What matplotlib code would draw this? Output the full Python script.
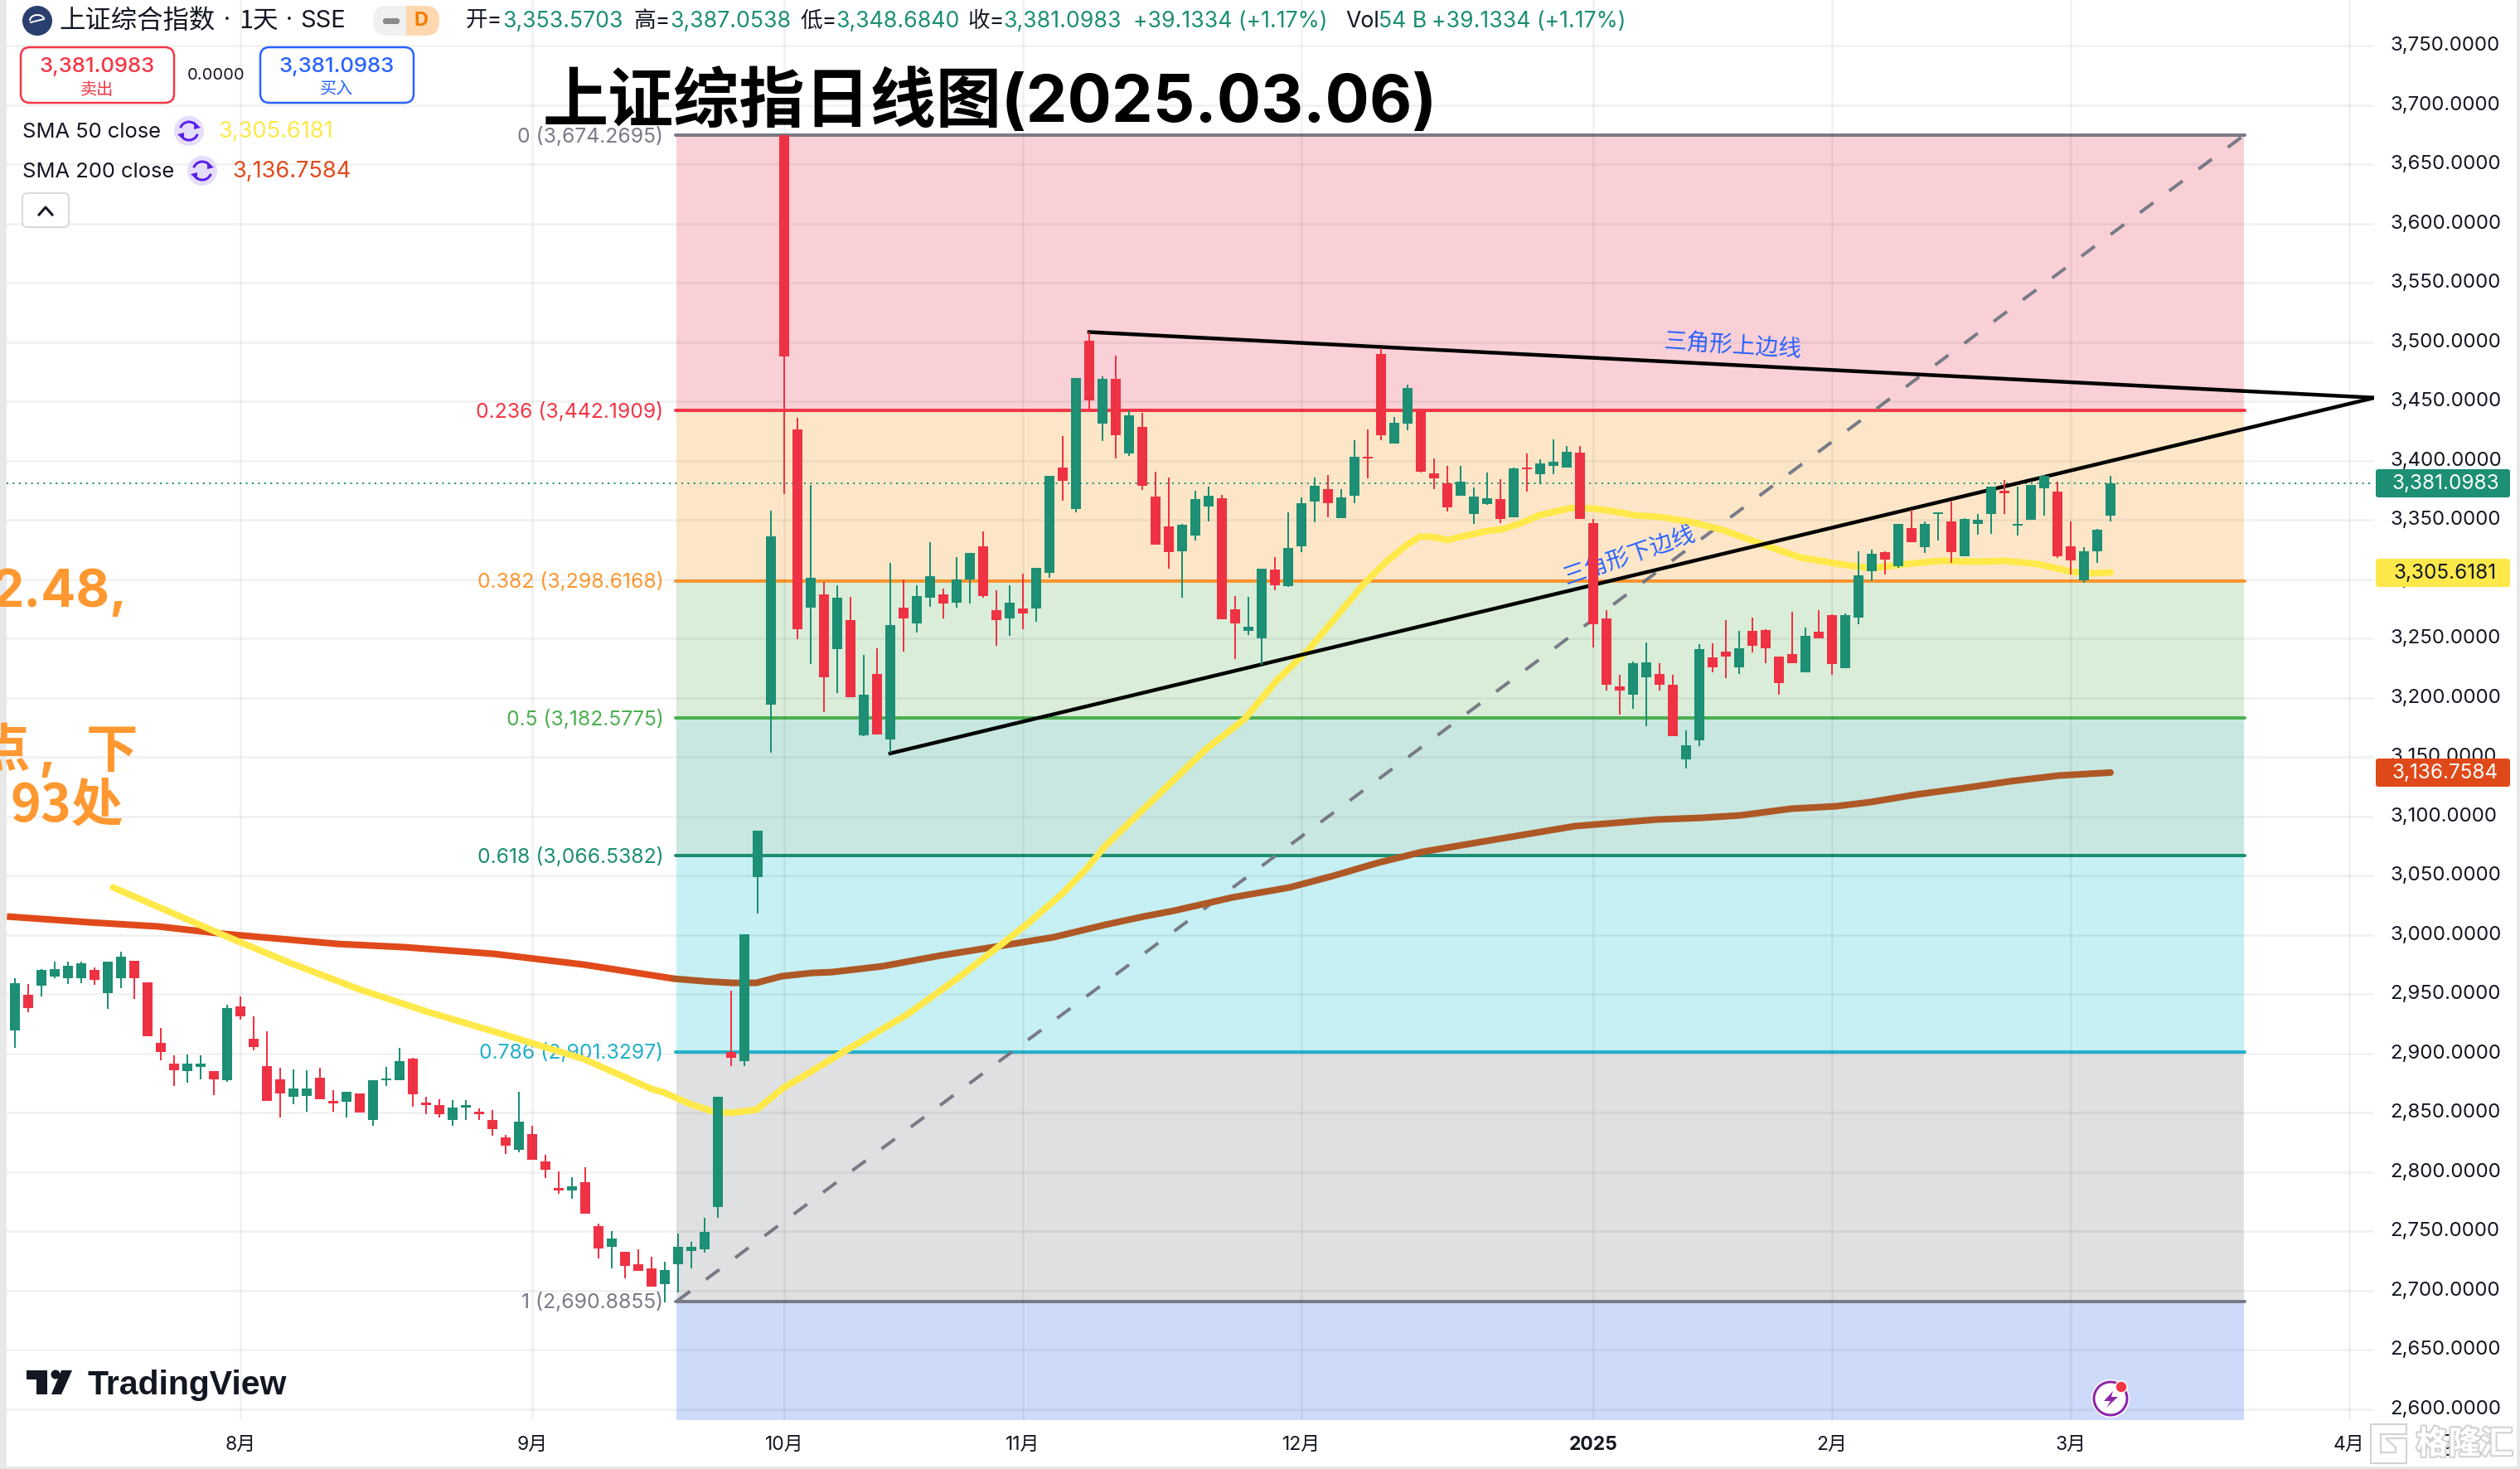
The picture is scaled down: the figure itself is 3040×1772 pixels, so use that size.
import numpy as np
import matplotlib
matplotlib.use('Agg')
import matplotlib.pyplot as plt
import matplotlib.patheffects as pe
from matplotlib.patches import FancyBboxPatch, Circle, Rectangle, Polygon, Arc
from matplotlib.transforms import ScaledTranslation

# daily candles, index 0 = first bar on screen
opens = [2919.1, 2949, 2956.9, 2965, 2963, 2963, 2970.6, 2950.6, 2963, 2978.3,
         2960, 2909, 2891.6, 2885.3, 2888.8, 2885.3, 2877, 2939.9, 2912.6, 2889.5,
         2878.3, 2863, 2864.3, 2879.7, 2859.4, 2859.4, 2866.4, 2843.4, 2877, 2877,
         2895.8, 2858.7, 2856, 2844, 2854.5, 2851, 2844, 2829.4, 2818.9, 2832.2,
         2809, 2786.7, 2784.6, 2791.6, 2754.5, 2737, 2732.9, 2722.4, 2718.9, 2705,
         2722.3, 2733.6, 2735, 2770, 2901, 2893.4, 3048.5, 3194, 3674.3, 3426.5,
         3276.2, 3287.4, 3240.8, 3265.1, 3168, 3220.2, 3165, 3275.7, 3262.9, 3284,
         3287.4, 3279.8, 3299.5, 3327.4, 3273.5, 3267.1, 3274.9, 3274.9, 3305.6, 3394.4,
         3358.8, 3501.3, 3430.9, 3469.2, 3405.7, 3428.7, 3369.4, 3344.1, 3323.7, 3336.5,
         3361.5, 3367.9, 3274.2, 3256.3, 3249.7, 3307.8, 3293.8, 3327.4, 3365.2, 3376.2,
         3351.7, 3370.1, 3402.7, 3489.6, 3414.7, 3430.9, 3441.5, 3389.5, 3381.1, 3370.1,
         3354.6, 3363, 3367.2, 3352.4, 3394.4, 3388.3, 3395.8, 3394.4, 3406.4, 3347.5,
         3266.6, 3209.2, 3202.3, 3217.5, 3220.2, 3211.2, 3147.6, 3164.3, 3234.2, 3238.6,
         3225.9, 3256, 3256.8, 3235, 3236.8, 3221.4, 3255.9, 3269.9, 3225.2, 3267.8,
         3307, 3323.1, 3311.2, 3342.7, 3327.3, 3354.6, 3348.3, 3319.6, 3346.2, 3355.2,
         3374.1, 3344.8, 3349.7, 3376.9, 3374.1, 3328, 3299.3, 3323.8, 3353.6]
highs = [2963.4, 2958.7, 2971.3, 2977, 2977, 2977, 2972.7, 2977.4, 2986, 2978.3,
         2960, 2921.7, 2898, 2899.3, 2898.6, 2885.3, 2940.6, 2947.6, 2931.5, 2918.9,
         2888, 2886.7, 2886, 2888, 2869.2, 2867.8, 2866.4, 2877.6, 2888.8, 2904.9,
         2896.5, 2863.6, 2861.5, 2860.8, 2860.8, 2853.8, 2852.4, 2831.5, 2867.8, 2839.2,
         2814.7, 2800.7, 2795.8, 2804, 2756.6, 2750.3, 2732.9, 2735, 2728.7, 2724,
         2747.6, 2741, 2761, 2863, 2952.5, 3000.6, 3087.6, 3358, 3674.3, 3436.3,
         3379.2, 3297.3, 3294.6, 3284.7, 3236.4, 3241.3, 3313.4, 3300, 3294.6, 3330.9,
         3292.3, 3318.8, 3321.8, 3339.9, 3290.9, 3295, 3304.9, 3309.8, 3386.8, 3420.4,
         3469.9, 3508.4, 3470.7, 3488.8, 3442.2, 3440.3, 3390.9, 3386, 3346.3, 3374.8,
         3377.7, 3371.3, 3285.5, 3284.7, 3309, 3318.8, 3356.6, 3368.6, 3386, 3387.5,
         3376.2, 3417.4, 3426, 3494.5, 3437.1, 3463.8, 3441.5, 3401.5, 3395.8, 3395.8,
         3377, 3390.2, 3384.6, 3394.4, 3405.7, 3400.8, 3418.2, 3412.5, 3412.5, 3351,
         3273.5, 3219, 3230.8, 3246.2, 3228.8, 3219.5, 3172.2, 3244.8, 3245.5, 3265.1,
         3256, 3267.8, 3258, 3235, 3272.7, 3259.4, 3274.1, 3270.6, 3271.3, 3323.8,
         3325.2, 3323.8, 3346.2, 3358.7, 3348.3, 3356.6, 3365.7, 3351.7, 3355.2, 3378.3,
         3383.9, 3378.3, 3379.7, 3388.1, 3382.5, 3348.3, 3327.3, 3342, 3387.05]
lows = [2904.4, 2935, 2947.8, 2963, 2958.7, 2959.4, 2958, 2937.8, 2955.2, 2946,
        2914.7, 2894.4, 2872.7, 2875.5, 2878.3, 2865, 2876.2, 2928.7, 2902.8, 2860,
        2845.5, 2857.3, 2851, 2861.5, 2851, 2845.5, 2849.7, 2839.2, 2872.7, 2877,
        2855.2, 2848.3, 2845.5, 2839.2, 2844, 2843.4, 2830.8, 2815.4, 2816.8, 2810.5,
        2795, 2781.8, 2777.6, 2765, 2727.3, 2718.9, 2710.5, 2716.8, 2703.5, 2689.6,
        2698.3, 2718.6, 2732, 2761, 2889, 2889, 3017.8, 3153.5, 3371.6, 3249.2,
        3228.3, 3187.6, 3203.6, 3200.4, 3167.3, 3168.7, 3153.5, 3238.6, 3254.6, 3276.9,
        3266.6, 3275.7, 3279.1, 3284, 3244, 3251.9, 3258, 3263.7, 3301.4, 3366.4,
        3356.1, 3442.2, 3416.2, 3401.5, 3404.2, 3375.5, 3329.4, 3308.5, 3284.3, 3332.3,
        3348.3, 3265.9, 3232.3, 3252.6, 3227.6, 3290.6, 3293.1, 3322.8, 3347.8, 3352.4,
        3351.7, 3363.7, 3385.3, 3417.4, 3414.7, 3425.3, 3390.2, 3376.2, 3357.3, 3370.1,
        3346.3, 3362.3, 3347.5, 3352.4, 3373.5, 3380.4, 3388.3, 3394.4, 3350.5, 3242,
        3205.8, 3185.4, 3190.3, 3175.8, 3205.8, 3167.3, 3140.5, 3159.4, 3221.7, 3216.8,
        3219.7, 3237.9, 3228.8, 3202.8, 3229.4, 3221.4, 3249.7, 3219.6, 3225.2, 3262.2,
        3298.6, 3304.2, 3309.8, 3331.5, 3322.4, 3332.9, 3314, 3319.6, 3337.8, 3338.5,
        3355.2, 3337.1, 3349.7, 3353.2, 3318.2, 3304.2, 3297.2, 3314, 3348.68]
closes = [2959.4, 2938.5, 2970, 2971.3, 2974, 2976, 2962, 2977, 2981.8, 2963.6,
          2914.7, 2901.4, 2886, 2891, 2891.6, 2878.3, 2938.5, 2931.5, 2905, 2860,
          2866.4, 2870, 2870, 2861.5, 2858, 2867.8, 2849.7, 2877.6, 2879, 2893.7,
          2865.7, 2856, 2848.3, 2854.5, 2856, 2848.3, 2836.4, 2822.4, 2842, 2810.5,
          2802, 2784, 2788, 2765, 2735.7, 2744, 2721, 2716.8, 2703.5, 2717.5,
          2736.5, 2737, 2749, 2863, 2896, 3000.6, 3087.6, 3335.8, 3488, 3258,
          3301.4, 3217, 3284, 3200.4, 3202.8, 3168.7, 3261, 3267.1, 3285.5, 3302.2,
          3279.1, 3299.5, 3321.8, 3285.5, 3265.1, 3279.8, 3270.8, 3309.8, 3386.8, 3382.6,
          3469.9, 3451, 3469.2, 3421.1, 3438.5, 3378.7, 3329.4, 3322.5, 3345.6, 3367.2,
          3370.1, 3265.9, 3262.9, 3259.5, 3309, 3294.6, 3326, 3363.7, 3378.4, 3363.7,
          3368.6, 3403.5, 3401.5, 3421.6, 3432.2, 3460.9, 3390.9, 3385.3, 3360.3, 3381.9,
          3369.4, 3367.9, 3350.5, 3393.2, 3392.4, 3397.3, 3399.3, 3407.1, 3350.5, 3261.7,
          3210.7, 3205.8, 3229.3, 3230, 3210.7, 3167.3, 3160.1, 3240.6, 3225.9, 3235,
          3241.3, 3243.5, 3241.3, 3212.6, 3229.4, 3252.4, 3249.7, 3228.7, 3269.9, 3303.5,
          3321.7, 3316.8, 3346.2, 3331.5, 3346.2, 3356, 3323.1, 3351, 3350.3, 3378.3,
          3372.7, 3346.2, 3379.7, 3387.4, 3319.6, 3316.1, 3323.8, 3341.3, 3381.1]

# moving averages, read at bar positions
sma50_x = [7.4, 11.75, 15.8, 20.6, 26, 31.1, 36.8, 42.9, 48, 48.9, 50.9, 52.6, 54, 55.9, 58, 59.2,
           62.6, 67.3, 71.2, 74.5, 76.4, 79, 80.8, 82.2, 84.6, 87.4, 89.8, 92.7, 95.1, 97.6,
           99.8, 101.8, 103.4, 105, 105.9, 106.9, 108, 109, 111, 112.1, 113.5, 114.9, 117.4,
           119.1, 120.5, 122.1, 124.1, 126.6, 128.8, 131.4, 134.6, 137.6, 140, 142.5, 145.1,
           148.1, 150, 152.6, 155, 156.4, 158]
sma50_y = [3039.9, 3018.9, 2999.3, 2976.9, 2953.8, 2935, 2916.1, 2895.1, 2869.9, 2867.1, 2857.3,
           2851, 2849.7, 2852.4, 2871.3, 2879, 2902.1, 2932.9, 2964.3, 2993, 3009.8, 3035,
           3055.9, 3074.8, 3100.7, 3130.8, 3156.6, 3181.8, 3214, 3241.3, 3270.6, 3297.2, 3314.7,
           3329.4, 3335.7, 3335.7, 3332.9, 3335.7, 3340.6, 3342, 3346.9, 3353.8, 3360.1, 3359.4,
           3357.3, 3353.8, 3352.4, 3347.6, 3341.3, 3330.8, 3318.2, 3312.6, 3309.1, 3312.6,
           3315.4, 3314.7, 3315.4, 3312.6, 3306.3, 3304.9, 3305.6]
sma200_x = [-0.6, 5.6, 10.8, 15.8, 24.3, 29.4, 36.1, 42.9, 49.7, 52, 54.1, 55.9, 57.8, 60.1, 61.6,
            65.4, 69.8, 74.1, 78.3, 82.2, 85.1, 87.4, 91.8, 96.1, 99.4, 102.8, 106.1, 110.9,
            117.6, 123.8, 127.1, 130.1, 133.9, 137.3, 139.9, 143.3, 147, 150.4, 154.1, 158]
sma200_y = [3015.4, 3010.5, 3007, 3000.7, 2992.3, 2989.5, 2983.9, 2974.8, 2962.9, 2960.8, 2959.4,
            2959.4, 2965, 2967.8, 2968.5, 2973.4, 2982.5, 2990.2, 2997.9, 3008.4, 3015.4, 3020.3,
            3031.5, 3039.9, 3049.7, 3060.8, 3069.9, 3079, 3091.6, 3097.2, 3098.6, 3100.7, 3106.3,
            3108.4, 3111.9, 3118.2, 3123.8, 3129.4, 3134.3, 3136.8]

# fibonacci retracement
fib_left = 49.9
fib_right = 168.05
fib_levels = ['0', '0.236', '0.382', '0.5', '0.618', '0.786', '1']
fib_prices = [3674.2695, 3442.1909, 3298.6168, 3182.5775, 3066.5382, 2901.3297, 2690.8855]
fib_colors = ['#787B86', '#F23645', '#FF9830', '#4CAF50', '#1B8E72', '#22B2CC', '#787B86']
zone_colors = ['#F9D0D6', '#FDE6C8', '#D9EDD9', '#C8E7E1', '#C6F0F3', '#DFE0E2', '#CDDAFA']

# hand drawn trend lines
upper_x = [81, 177.9]
upper_y = [3508.4, 3453]
lower_x = [66, 177.9]
lower_y = [3153, 3453]

month_pos = [17, 39, 58, 76, 97, 119, 137, 155, 176]
month_labels = ['8月', '9月', '10月', '11月', '12月', '2025', '2月', '3月', '4月']
price_ticks = list(range(2600, 3800, 50))

W, H = 3040, 1772
GREEN = '#1C8F74'
RED = '#EF3243'
YELLOW = '#FFE94A'
ORANGE = '#E04A1A'
BROWN = '#AE5826'
BLUE = '#2962FF'
TXT = '#131722'
FONT = ['Inter', 'Noto Sans CJK SC', 'DejaVu Sans']
CJK = ['Noto Sans CJK SC', 'DejaVu Sans']
px = 0.72  # one image pixel in points at dpi 100

plt.rcParams['font.family'] = FONT

fig = plt.figure(figsize=(W / 100, H / 100), dpi=100, facecolor='white')

# main pane: pixel x 8..2864, pixel y 0..1713
ax = fig.add_axes([8 / W, 1 - 1713 / H, (2864 - 8) / W, 1713 / H])
ax.set_xlim(-0.625, 177.875)
ax.set_ylim(2590.6, 3788.5)
for s in ax.spines.values():
    s.set_visible(False)
ax.patch.set_alpha(0)

ax.set_xticks(month_pos)
ax.set_xticklabels([])
ax.set_yticks(price_ticks)
ax.set_yticklabels([f'{v:,.4f}' for v in price_ticks], fontsize=17.3, color=TXT)
ax.yaxis.tick_right()
ax.tick_params(axis='both', length=0)
ax.tick_params(axis='y', pad=14)
ax.grid(True, color='black', alpha=0.055, lw=2.6 * px, zorder=1.5)
ax.set_axisbelow(False)
for g in ax.get_xgridlines() + ax.get_ygridlines():
    g.set_zorder(1.5)
# the price labels sit a little above their grid lines
lift = ScaledTranslation(0, 2.5 / 100, fig.dpi_scale_trans)
for t in ax.get_yticklabels():
    t.set_transform(t.get_transform() + lift)

# fib zones and lines
edges = fib_prices + [2590.6]
for k in range(len(zone_colors)):
    ax.fill_between([fib_left, fib_right], edges[k + 1], edges[k], color=zone_colors[k], lw=0, zorder=1)
for k, price in enumerate(fib_prices):
    ax.plot([fib_left - 0.1, fib_right + 0.1], [price, price], color=fib_colors[k], lw=4 * px,
            zorder=2, solid_capstyle='round')
    ax.text(48.9, price - 1, f'{fib_levels[k]} ({price:,.4f})', color=fib_colors[k], fontsize=17.8,
            ha='right', va='center', zorder=2)
ax.plot([fib_left, fib_right], [fib_prices[6], fib_prices[0]], color='#787B86', lw=4 * px,
        linestyle=(0, (5, 6)), zorder=2.2)

# last price line
ax.plot([-0.625, 177.875], [closes[-1], closes[-1]], color=GREEN, lw=2 * px, linestyle=(0, (1, 2.7)), zorder=2.3)

# SMAs, the 200 turns brown where the fib box sits over it
sx = np.array(sma200_x)
sy = np.array(sma200_y)
ax.plot(sx[sx <= 49.7], sy[sx <= 49.7], color=ORANGE, lw=8 * px, zorder=3, solid_capstyle='butt')
ax.plot(sx[sx >= 49.7], sy[sx >= 49.7], color=BROWN, lw=8 * px, zorder=3, solid_capstyle='round')
ax.plot(sma50_x, sma50_y, color=YELLOW, lw=8 * px, zorder=3.1, solid_capstyle='round')

# trend lines
ax.plot(upper_x, upper_y, color='black', lw=4.5 * px, zorder=3.5)
ax.plot(lower_x, lower_y, color='black', lw=4.5 * px, zorder=3.5)
ax.text(129.5, 3496.5, '三角形上边线', color=BLUE, fontsize=20, rotation=-3.5, family=CJK,
        ha='center', va='center', rotation_mode='anchor', zorder=3.6)
ax.text(121.75, 3319, '三角形下边线', color=BLUE, fontsize=20, rotation=19, family=CJK,
        ha='center', va='center', rotation_mode='anchor', zorder=3.6)

# candles
idx = np.arange(len(closes))
o = np.array(opens)
c = np.array(closes)
cols = [GREEN if c[i] >= o[i] else RED for i in idx]
ax.vlines(idx, lows, highs, colors=cols, lw=2 * px, zorder=4)
ax.bar(idx, np.maximum(np.abs(c - o), 1.5), bottom=np.minimum(o, c), width=0.75, color=cols, lw=0, zorder=4.1)

# everything that is screen furniture goes on a pixel overlay
ov = fig.add_axes([0, 0, 1, 1], zorder=5)
ov.set_xlim(0, W)
ov.set_ylim(H, 0)
ov.axis('off')


def label(x, y, s, size, color=TXT, ha='left', va='center', **kw):
    kw.setdefault('family', FONT)
    return ov.text(x, y, s, fontsize=size, color=color, ha=ha, va=va, **kw)


for pos, name in zip(month_pos, month_labels):
    xp = 8 + (pos + 0.625) * 16
    label(xp, 1743, name, 16.5, ha='center', fontweight='bold' if name == '2025' else 'normal')

# header line
ov.add_patch(Circle((45, 25), 18, fc='#2B3F6E', ec='none'))
ov.add_patch(Arc((45, 25), 18, 14, theta1=180, theta2=340, ec='white', lw=2 * px))
ov.plot([37, 53], [27, 23], color='white', lw=2 * px)
label(71, 25, '上证综合指数', 22.6, family=CJK)
label(274, 25, '·', 20, ha='center')
label(288, 25, '1天', 22, family=CJK)
label(349, 25, '·', 20, ha='center')
label(362, 25, 'SSE', 21)
ov.add_patch(FancyBboxPatch((450, 7), 80, 36, boxstyle='round,pad=0,rounding_size=17', fc='#F0F0F0', ec='none'))
bar = FancyBboxPatch((490, 7), 40, 36, boxstyle='round,pad=0,rounding_size=17', fc='#FFD8B0', ec='none')
ov.add_patch(bar)
ov.add_patch(Rectangle((490, 7), 18, 36, fc='#FFD8B0', ec='none'))
ov.add_patch(FancyBboxPatch((462, 22), 20, 7, boxstyle='round,pad=0,rounding_size=3', fc='#8A8A8A', ec='none'))
label(508, 25, 'D', 17, color='#F57C00', ha='center', fontweight='bold')

for xp, s, col in [(562, '开=', TXT), (606, '3,353.5703', GREEN), (764, '高=', TXT), (808, '3,387.0538', GREEN),
                   (965, '低=', TXT), (1008, '3,348.6840', GREEN), (1167, '收=', TXT), (1210, '3,381.0983', GREEN),
                   (1367, '+39.1334 (+1.17%)', GREEN), (1623, 'Vol', TXT), (1663, '54 B', GREEN),
                   (1727, '+39.1334 (+1.17%)', GREEN)]:
    label(xp, 26, s, 19.2, color=col)

# sell / buy boxes
for x0, col, word in [(25, '#F23645', '卖出'), (314, BLUE, '买入')]:
    ov.add_patch(FancyBboxPatch((x0, 57), 185, 67, boxstyle='round,pad=0,rounding_size=11',
                                fc='white', ec=col, lw=2.5 * px))
    label(x0 + 92, 80, '3,381.0983', 18.5, color=col, ha='center', fontweight='medium')
    label(x0 + 92, 108, word, 14.5, color=col, ha='center', family=CJK)
label(261, 91, '0.0000', 14.5, ha='center')


# SMA legend rows
def refresh_icon(cx, cy):
    ov.add_patch(Circle((cx, cy), 18, fc='#E6DDFB', ec='none'))
    ov.add_patch(Arc((cx, cy), 22, 22, theta1=200, theta2=330, ec='#5B21E6', lw=3 * px))
    ov.add_patch(Arc((cx, cy), 22, 22, theta1=20, theta2=150, ec='#5B21E6', lw=3 * px))
    ov.add_patch(Polygon([[cx + 6, cy - 11], [cx + 14, cy - 4], [cx + 6, cy - 2]], fc='#5B21E6', ec='none'))
    ov.add_patch(Polygon([[cx - 6, cy + 11], [cx - 14, cy + 4], [cx - 6, cy + 2]], fc='#5B21E6', ec='none'))


label(27, 159, 'SMA 50 close', 18.4)
refresh_icon(228, 158)
label(263, 159, '3,305.6181', 19.6, color='#FDE84A')
label(27, 207, 'SMA 200 close', 18.4)
refresh_icon(244, 206)
label(280, 207, '3,136.7584', 19.6, color=ORANGE)
ov.add_patch(FancyBboxPatch((27, 233), 56, 41, boxstyle='round,pad=0,rounding_size=6', fc='white', ec='#DADADA', lw=2 * px))
ov.plot([47, 55, 63], [259, 250, 259], color=TXT, lw=3 * px)

# big title typed on the screenshot
label(655, 124, '上证综指日线图(2025.03.06)', 57, color='black', fontweight='bold')

# orange note cut off by the left edge
NOTE = '#FF9830'
label(154, 716, '2.48,', 45, color=NOTE, ha='right', fontweight='bold')
label(36, 906, '点', 45, color=NOTE, ha='right', fontweight='bold', family=CJK)
label(46, 926, ',', 45, color=NOTE, va='baseline', fontweight='bold')
label(166, 906, '下', 45, color=NOTE, ha='right', fontweight='bold', family=CJK)
label(149, 972, '93处', 45, color=NOTE, ha='right', fontweight='bold', family=CJK)

# TradingView mark
ov.add_patch(Polygon([[32, 1653], [57, 1653], [57, 1682], [44, 1682], [44, 1664], [32, 1664]], fc='#131722', ec='none'))
ov.add_patch(Circle((67, 1658), 5.5, fc='#131722', ec='none'))
ov.add_patch(Polygon([[74, 1653], [87, 1653], [74, 1682], [62, 1682]], fc='#131722', ec='none'))
label(105, 1671, 'TradingView', 29.5, family=['Liberation Sans'], fontweight='bold')

# price tags on the axis
for y0, col, txt, tc in [(566, GREEN, '3,381.0983', 'white'), (674, YELLOW, '3,305.6181', TXT),
                         (915, ORANGE, '3,136.7584', 'white')]:
    ov.add_patch(FancyBboxPatch((2866, y0), 162, 34, boxstyle='round,pad=0,rounding_size=3', fc=col, ec='none'))
    label(2950, y0 + 17, txt, 17.5, color=tc, ha='center')

# lightning badge
ov.add_patch(Circle((2546, 1687), 23, fc='white', ec='none'))
ov.add_patch(Circle((2546, 1687), 20, fc='none', ec='#8E24AA', lw=3 * px))
ov.add_patch(Polygon([[2549, 1678], [2538, 1690], [2546, 1690], [2541, 1698], [2555, 1685], [2547, 1685]],
                     fc='#8E24AA', ec='none'))
ov.add_patch(Circle((2559, 1673), 7, fc='#F23645', ec='white', lw=1.5 * px))

# settings gear under the watermark
ov.add_patch(Circle((2952, 1743), 4, fc='none', ec=TXT, lw=2 * px))
ov.plot([2940, 2946], [1736, 1752], color=TXT, lw=2 * px)
ov.plot([2958, 2964], [1752, 1736], color=TXT, lw=2 * px)
ov.plot([2946, 2958], [1731, 1731], color=TXT, lw=2 * px)
ov.plot([2946, 2958], [1755, 1755], color=TXT, lw=2 * px)

# watermark
halo = [pe.withStroke(linewidth=3, foreground='#D2D2D2')]
g = Polygon([[2860, 1718], [2903, 1718], [2903, 1730], [2872, 1730], [2872, 1752], [2890, 1752], [2890, 1746],
             [2878, 1735], [2903, 1735], [2903, 1765], [2860, 1765]], fc='white', ec='#D2D2D2', lw=1.5)
ov.add_patch(g)
label(2973, 1742, '格隆汇', 28, color='white', ha='center', family=CJK, path_effects=halo, fontweight='bold')

# window edges
ov.add_patch(Rectangle((0, 0), 8, H, fc='#E8E8E8', ec='none'))
ov.add_patch(Rectangle((3036, 0), 4, H, fc='#E8E8E8', ec='none'))
ov.add_patch(Rectangle((0, 1769), W, 3, fc='#E8E8E8', ec='none'))

fig.savefig('out.png', dpi=100)
